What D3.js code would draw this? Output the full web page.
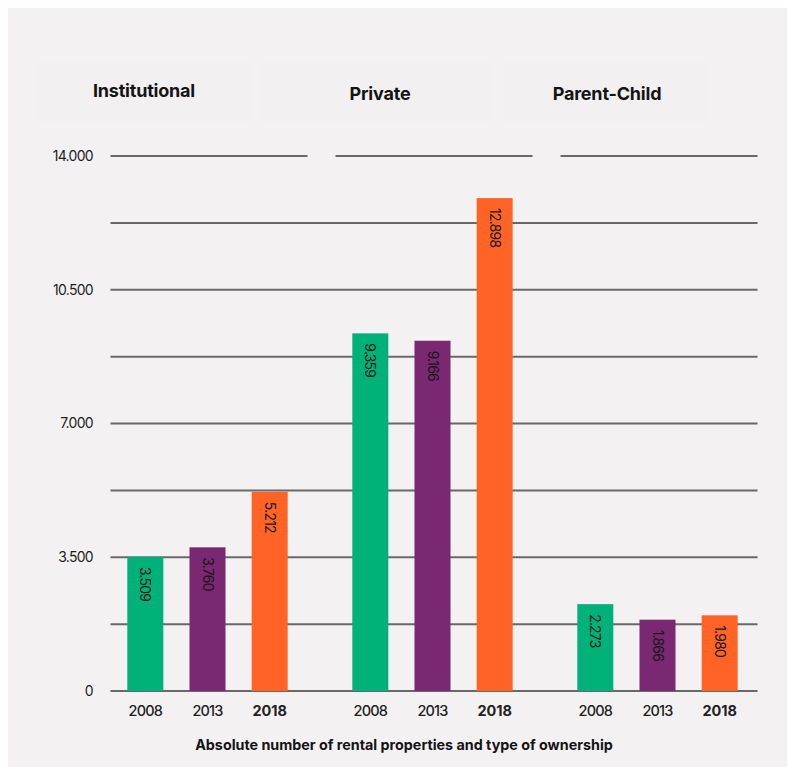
<!DOCTYPE html>
<html>
<head>
<meta charset="utf-8">
<script src="https://cdn.jsdelivr.net/npm/d3@7"></script>
<style>
  html, body { margin: 0; padding: 0; background: #fff; }
  svg { display: block; font-family: Inter, "Noto Sans", sans-serif; }
</style>
</head>
<body>
<script>
// data
const groups = ['Institutional', 'Private', 'Parent-Child'];
const years = ['2008', '2013', '2018'];
const institutional = [3509, 3760, 5212];
const privateOwners = [9359, 9166, 12898];
const parentChild = [2273, 1866, 1980];
const gridTicks = [0, 1750, 3500, 5250, 7000, 8750, 10500, 12250, 14000];
const labelTicks = [0, 3500, 7000, 10500, 14000];
const caption = 'Absolute number of rental properties and type of ownership';

const seriesValues = [institutional, privateOwners, parentChild];
const colors = ['#00b27a', '#7b2872', '#ff6426'];

const width = 790, height = 767;
const nl = d3.formatLocale({ decimal: ',', thousands: '.', grouping: [3], currency: ['', ''] });
const fmt = nl.format(',d');

const rows = [];
groups.forEach((g, gi) => {
  years.forEach((y, yi) => rows.push({ group: g, year: y, yi, value: seriesValues[gi][yi] }));
});

const svg = d3.select('body').append('svg')
  .attr('width', width)
  .attr('height', height);

// background panel
svg.append('rect')
  .attr('x', 8).attr('y', 8)
  .attr('width', 779).attr('height', 759)
  .attr('fill', '#f3f1f2');

// header boxes (very faint)
const headerBoxes = [[37, 250], [262, 490], [503, 708]];
const headerCenters = [144, 380, 607];
svg.selectAll('.hbox')
  .data(headerBoxes)
  .enter().append('rect')
  .attr('x', d => d[0]).attr('y', 62)
  .attr('width', d => d[1] - d[0]).attr('height', 60)
  .attr('fill', '#f2f0f1');

svg.selectAll('.htitle')
  .data(groups)
  .enter().append('text')
  .attr('x', (d, i) => headerCenters[i])
  .attr('y', (d, i) => i === 0 ? 97 : 100)
  .attr('text-anchor', 'middle')
  .attr('font-size', 18)
  .attr('font-weight', 700)
  .attr('letter-spacing', -0.2)
  .attr('fill', '#141414')
  .text(d => d);

// scales
const x0 = d3.scaleBand()
  .domain(groups)
  .range([110.5, 757.5])
  .paddingInner(28 / 225);

const x1 = d3.scalePoint()
  .domain(years)
  .range([0, x0.bandwidth() - 3])
  .padding(0.56);

const y = d3.scaleLinear()
  .domain([0, 14000])
  .range([691, 156]);

const barW = 36;

// gridlines
const gridG = svg.append('g');
gridTicks.filter(t => t < 14000).forEach(t => {
  gridG.append('line')
    .attr('x1', x0.range()[0]).attr('x2', x0.range()[1])
    .attr('y1', y(t)).attr('y2', y(t))
    .attr('stroke', '#686868').attr('stroke-width', 2);
});
groups.forEach(g => {
  gridG.append('line')
    .attr('x1', x0(g)).attr('x2', x0(g) + x0.bandwidth())
    .attr('y1', y(14000)).attr('y2', y(14000))
    .attr('stroke', '#686868').attr('stroke-width', 2);
});

// y axis labels
const yAxis = d3.axisLeft(y)
  .tickValues(labelTicks)
  .tickSize(0)
  .tickPadding(0)
  .tickFormat(d => fmt(d));
const yg = svg.append('g')
  .attr('transform', 'translate(93,0)')
  .call(yAxis);
yg.select('.domain').remove();
yg.selectAll('text')
  .attr('font-family', 'Inter, "Noto Sans", sans-serif')
  .attr('font-size', 14)
  .attr('letter-spacing', -0.7)
  .attr('fill', '#1e1e1e');

// bars
const bars = svg.append('g').selectAll('g')
  .data(rows)
  .enter().append('g')
  .attr('transform', d => `translate(${x0(d.group) + x1(d.year)},0)`);

bars.append('rect')
  .attr('x', -barW / 2)
  .attr('y', d => y(d.value))
  .attr('width', barW)
  .attr('height', d => y(0) - y(d.value))
  .attr('fill', d => colors[d.yi]);

bars.append('text')
  .attr('transform', d => `translate(${-5},${y(d.value) + 10}) rotate(90)`)
  .attr('font-size', 14)
  .attr('letter-spacing', -0.8)
  .attr('fill', '#161616')
  .text(d => fmt(d.value));

// x labels
bars.append('text')
  .attr('y', 716)
  .attr('text-anchor', 'middle')
  .attr('font-size', 14.5)
  .attr('font-weight', d => d.year === '2018' ? 700 : 500)
  .attr('letter-spacing', d => d.year === '2018' ? 0 : -0.8)
  .attr('fill', '#222')
  .text(d => d.year);

// caption
svg.append('text')
  .attr('x', 404).attr('y', 750)
  .attr('text-anchor', 'middle')
  .attr('font-size', 14.3)
  .attr('font-weight', 700)
  .attr('fill', '#141414')
  .text(caption);
</script>
</body>
</html>
